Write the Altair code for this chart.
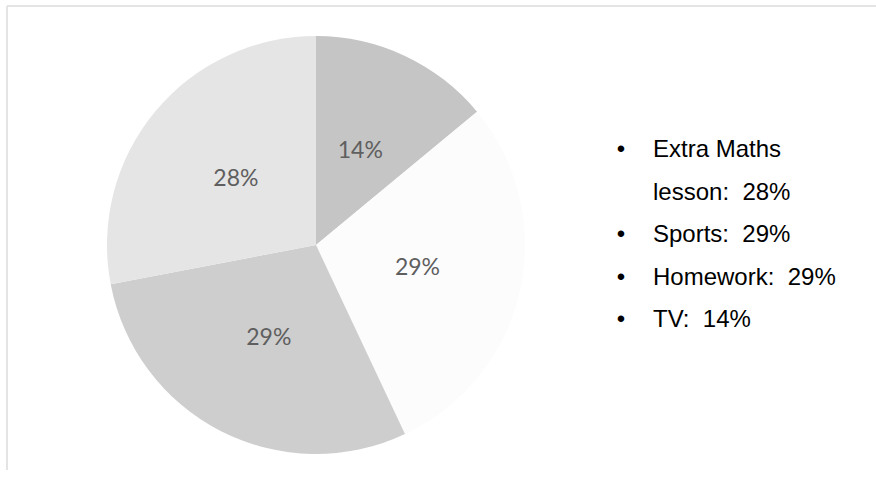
import altair as alt
import pandas as pd

# Data
categories = ["TV", "Homework", "Sports", "Extra Maths lesson"]
values = [14, 29, 29, 28]
colors = ["#c5c5c5", "#fcfcfc", "#cecece", "#e5e5e5"]
legend_names = ["Extra Maths\nlesson", "Sports", "Homework", "TV"]
legend_values = [28, 29, 29, 14]

pie_df = pd.DataFrame({
    "category": categories,
    "value": values,
    "idx": list(range(len(categories))),
    "label": [f"{v}%" for v in values],
})

# Build legend lines (wrapped first entry gives two lines)
rows = []
line = 0
for name, v in zip(legend_names, legend_values):
    parts = name.split("\n")
    for j, p in enumerate(parts):
        txt = p
        if j == len(parts) - 1:
            txt = f"{p}: \u00a0{v}%"
        rows.append({"line": line, "text": txt, "bullet": "\u2022" if j == 0 else ""})
        line += 1
legend_df = pd.DataFrame(rows)

color_scale = alt.Scale(domain=categories, range=colors)

base = alt.Chart(pie_df).encode(
    theta=alt.Theta("value:Q", stack=True),
    order=alt.Order("idx:Q"),
)

arcs = base.mark_arc(radius=209).encode(
    color=alt.Color("category:N", scale=color_scale, legend=None)
)

labels = base.mark_text(
    radius=104, font="Lato", fontSize=23, color="#5f5f5f", baseline="middle"
).encode(text="label:N")

leg_y = alt.Y("line:Q", scale=alt.Scale(domain=[0, 4], range=[132, 302]), axis=None)

legend_text = alt.Chart(legend_df).mark_text(
    align="left", baseline="alphabetic", font="Liberation Sans", fontSize=24, color="#000000"
).encode(x=alt.value(557), y=leg_y, text="text:N")

legend_bullets = alt.Chart(legend_df).mark_text(
    align="center", baseline="alphabetic", font="Liberation Sans", fontSize=24, color="#000000"
).encode(x=alt.value(525), y=leg_y, text="bullet:N")

frame_top = alt.Chart(pie_df).mark_rule(color="#e4e4e4", strokeWidth=2).encode(
    x=alt.value(-89), x2=alt.value(790), y=alt.value(-19)
)
frame_left = alt.Chart(pie_df).mark_rule(color="#e4e4e4", strokeWidth=2).encode(
    x=alt.value(-89), y=alt.value(-19), y2=alt.value(445)
)

chart = alt.layer(frame_top, frame_left, arcs, labels, legend_bullets, legend_text).properties(
    width=440,
    height=440,
    padding={"left": 96, "top": 25, "right": 340, "bottom": 14},
    autosize=alt.AutoSizeParams(type="none"),
    background="#ffffff",
).configure_view(stroke=None)

chart.save("out.html", embed_options={"renderer": "svg", "actions": False})
